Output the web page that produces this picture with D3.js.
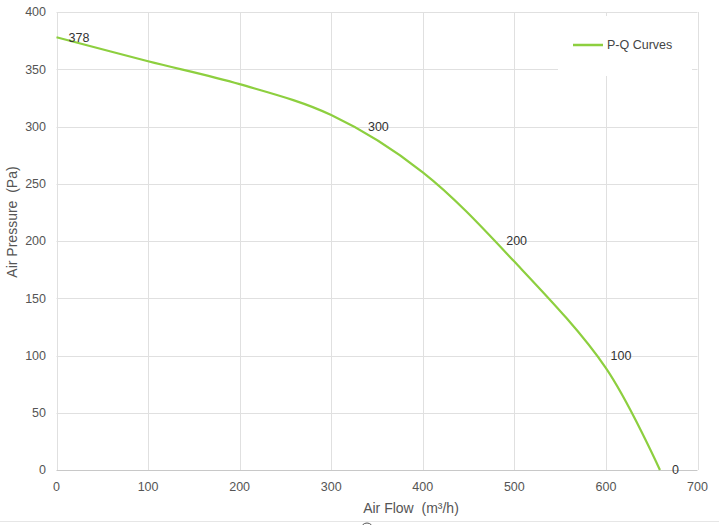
<!DOCTYPE html>
<html><head><meta charset="utf-8">
<script src="https://cdn.jsdelivr.net/npm/d3@7"></script>
<style>
html,body{margin:0;padding:0;background:#fff;}
text{font-family:"Liberation Sans",Arial,Helvetica,sans-serif;white-space:pre;}
</style></head>
<body>
<svg id="c" width="719" height="525"></svg>
<script>
// curve samples
const flow = [0, 100, 200, 300, 400, 500, 600, 659];
const pressure = [378, 357, 337, 310, 260, 182, 89, 0];
// labelled points
const labelFlow = [0, 327, 478, 592, 659];
const labelPressure = [378, 300, 200, 100, 0];
const pointLabels = ["378", "300", "200", "100", "0"];
const xTicks = [0, 100, 200, 300, 400, 500, 600, 700];
const yTicks = [0, 50, 100, 150, 200, 250, 300, 350, 400];
const seriesName = "P-Q Curves";
const xTitle = "Air Flow  (m³/h)";
const yTitle = "Air Pressure  (Pa)";

const svg = d3.select("#c");
const x = d3.scaleLinear().domain([0, 700]).range([56.5, 697.5]);
const y = d3.scaleLinear().domain([0, 400]).range([470, 12]);
const green = "#8dcf3f";

// grid
svg.append("g").selectAll("line").data(yTicks).join("line")
  .attr("x1", x(0)).attr("x2", x(700))
  .attr("y1", d => Math.round(y(d)) + 0.5).attr("y2", d => Math.round(y(d)) + 0.5)
  .attr("stroke", d => d === 0 ? "#c8c8c8" : "#e0e0e0").attr("stroke-width", 1);
svg.append("g").selectAll("line").data(xTicks).join("line")
  .attr("y1", y(0)).attr("y2", y(400))
  .attr("x1", d => Math.round(x(d)) + 0.5).attr("x2", d => Math.round(x(d)) + 0.5)
  .attr("stroke", "#e0e0e0").attr("stroke-width", 1);

// tick labels
svg.append("g").selectAll("text").data(yTicks).join("text")
  .attr("x", 46).attr("y", d => y(d)).attr("dy", "0.35em")
  .attr("text-anchor", "end").attr("font-size", 12.5).attr("fill", "#555")
  .text(d => d);
svg.append("g").selectAll("text").data(xTicks).join("text")
  .attr("x", d => x(d)).attr("y", 491)
  .attr("text-anchor", "middle").attr("font-size", 12.5).attr("fill", "#555")
  .text(d => d);

// axis titles
svg.append("text").attr("x", 411).attr("y", 513).attr("text-anchor", "middle")
  .attr("font-size", 14).attr("fill", "#555").text(xTitle);
svg.append("text").attr("transform", "translate(17,222) rotate(-90)")
  .attr("text-anchor", "middle").attr("font-size", 14).attr("fill", "#555").text(yTitle);

// legend box
svg.append("rect").attr("x", 558).attr("y", 16).attr("width", 134).attr("height", 60).attr("fill", "#fff");
svg.append("line").attr("x1", 573).attr("x2", 603).attr("y1", 45).attr("y2", 45)
  .attr("stroke", green).attr("stroke-width", 2.5);
svg.append("text").attr("x", 607).attr("y", 45).attr("dy", "0.35em")
  .attr("font-size", 12.5).attr("fill", "#444").text(seriesName);

// line
const data = flow.map((f, i) => ({f, p: pressure[i]}));
svg.append("path").datum(data)
  .attr("d", d3.line().x(d => x(d.f)).y(d => y(d.p)).curve(d3.curveCatmullRom.alpha(0.5)))
  .attr("fill", "none").attr("stroke", green).attr("stroke-width", 2.2);

// point labels
const labels = labelFlow.map((f, i) => ({f, p: labelPressure[i], l: pointLabels[i]}));
svg.append("g").selectAll("text").data(labels).join("text")
  .attr("x", d => x(d.f) + 12).attr("y", d => y(d.p)).attr("dy", "0.35em")
  .attr("font-size", 12.5).attr("fill", "#333").text(d => d.l);

// bottom artifacts
svg.append("line").attr("x1", 0).attr("x2", 719).attr("y1", 521.5).attr("y2", 521.5)
  .attr("stroke", "#e6e6e6");
svg.append("circle").attr("cx", 367).attr("cy", 529).attr("r", 6)
  .attr("fill", "#fff").attr("stroke", "#555").attr("stroke-width", 1);
</script>
</body></html>
